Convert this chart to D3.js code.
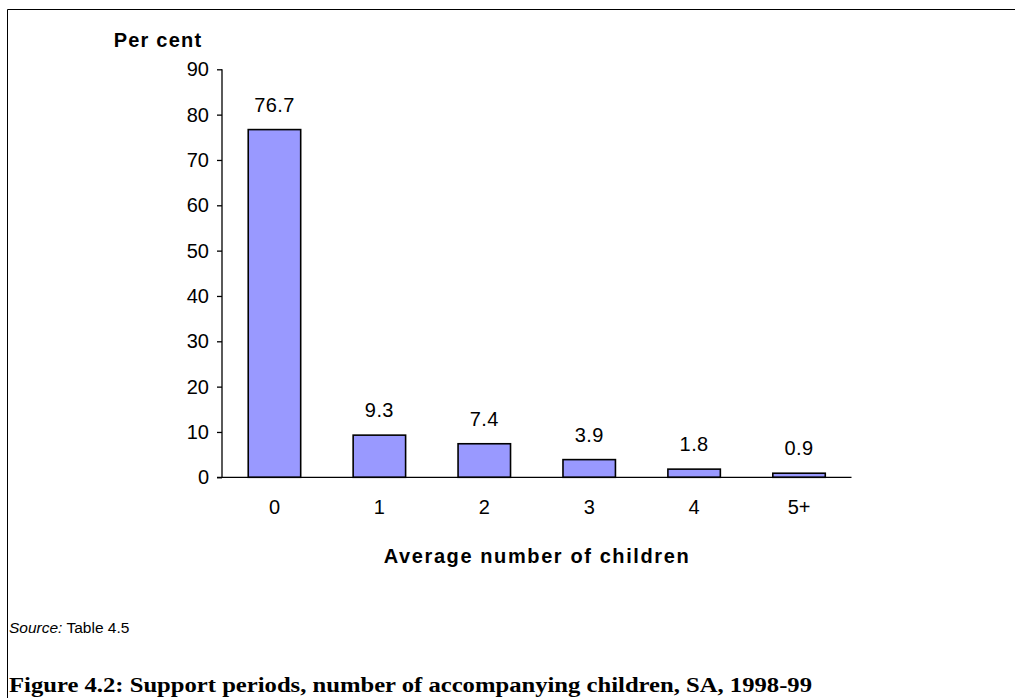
<!DOCTYPE html>
<html><head><meta charset="utf-8">
<script src="https://cdn.jsdelivr.net/npm/d3@7"></script>
<style>body{margin:0;background:#fff}svg{display:block}</style>
</head><body>
<svg id="c" width="1015" height="698"></svg>
<script>
const categories = ["0","1","2","3","4","5+"];
const values = [76.7, 9.3, 7.4, 3.9, 1.8, 0.9];
const yTicks = [0,10,20,30,40,50,60,70,80,90];

const svg = d3.select("#c");
const F = "'Liberation Sans', Arial, sans-serif";
// frame
svg.append("line").attr("x1",7.5).attr("x2",1015).attr("y1",9.5).attr("y2",9.5).attr("stroke","#000").attr("stroke-width",1);
svg.append("line").attr("x1",7.5).attr("x2",7.5).attr("y1",9.5).attr("y2",698).attr("stroke","#000").attr("stroke-width",1);

const x = d3.scaleBand().domain(categories).range([222, 851.5]).paddingInner(0.5).paddingOuter(0.25);
const y = d3.scaleLinear().domain([0,90]).range([477.3, 69.3]);

const yAxis = svg.append("g").attr("transform","translate(222,0)")
  .call(d3.axisLeft(y).tickValues(yTicks).tickSize(5).tickPadding(8));
yAxis.select(".domain").attr("stroke","#000").attr("stroke-width",1.3).attr("d","M0,"+y(90)+"V"+y(0));
yAxis.selectAll(".tick line").attr("stroke","#000").attr("stroke-width",1.3);
yAxis.selectAll(".tick text").attr("font-family",F).attr("font-size",20).attr("fill","#000");

svg.append("g").selectAll("rect").data(values).join("rect")
  .attr("x",(d,i)=>x(categories[i])).attr("width",x.bandwidth())
  .attr("y",d=>y(d)).attr("height",d=>y(0)-y(d))
  .attr("fill","#9999FF").attr("stroke","#000").attr("stroke-width",1.6);

const xAxis = svg.append("g").attr("transform","translate(0,"+y(0)+")")
  .call(d3.axisBottom(x).tickSize(0).tickPadding(23));
xAxis.select(".domain").attr("stroke","#000").attr("stroke-width",1.3).attr("d","M217,0H851.5");
xAxis.selectAll(".tick text").attr("font-family",F).attr("font-size",20).attr("fill","#000");

svg.append("g").selectAll("text").data(values).join("text")
  .attr("x",(d,i)=>x(categories[i])+x.bandwidth()/2).attr("y",d=>y(d)-18)
  .attr("text-anchor","middle").attr("font-family",F).attr("font-size",20).attr("letter-spacing",0.4).attr("fill","#000")
  .text(d=>d.toFixed(1));

svg.append("text").attr("x",158).attr("y",47).attr("text-anchor","middle")
  .attr("font-family",F).attr("font-size",20).attr("font-weight","bold").attr("letter-spacing",1.2)
  .text("Per cent");
svg.append("text").attr("x",537).attr("y",563).attr("text-anchor","middle")
  .attr("font-family",F).attr("font-size",20).attr("font-weight","bold").attr("letter-spacing",1.6)
  .text("Average number of children");

const s = svg.append("text").attr("x",9).attr("y",633).attr("font-family",F).attr("font-size",15.5);
s.append("tspan").attr("font-style","italic").text("Source:");
s.append("tspan").text(" Table 4.5");

svg.append("text").attr("x",9).attr("y",692).attr("font-family","'Liberation Serif', 'DejaVu Serif', serif")
  .attr("font-size",20).attr("font-weight","bold").attr("textLength",803).attr("lengthAdjust","spacingAndGlyphs")
  .text("Figure 4.2: Support periods, number of accompanying children, SA, 1998-99");
</script>
</body></html>
